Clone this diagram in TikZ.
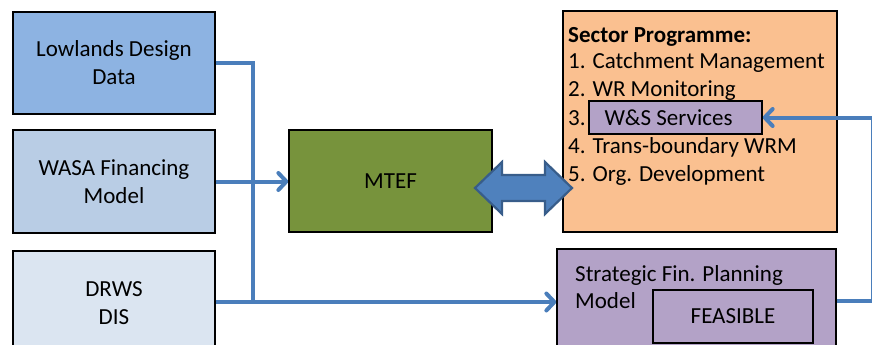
\documentclass[tikz,border=0pt]{standalone}
\usepackage{fontspec}
\setmainfont{Carlito}
\usetikzlibrary{arrows.meta,calc}
\definecolor{cLow}{HTML}{8DB3E2}
\definecolor{cWasa}{HTML}{B9CDE5}
\definecolor{cDrws}{HTML}{DBE5F1}
\definecolor{cMtef}{HTML}{77933C}
\definecolor{cSector}{HTML}{FAC090}
\definecolor{cPurple}{HTML}{B3A2C7}
\definecolor{cLine}{HTML}{4A7EBB}
\definecolor{cDArrow}{HTML}{4F81BD}
\definecolor{cDBorder}{HTML}{385D8A}
\tikzset{
  box/.style={draw=black, line width=1.3pt, rectangle, inner sep=0pt, align=center,
    font=\fontsize{23}{28}\selectfont},
  txt/.style={inner sep=0pt, anchor=base west, font=\fontsize{23}{28}\selectfont},
  conn/.style={draw=cLine, line width=4pt},
  arr/.style={-{Straight Barb[length=8pt,width=17pt,round]}},
}
\begin{document}
\begin{tikzpicture}[x=1pt,y=-1pt]
\clip (0,0) rectangle (872,345);
\useasboundingbox (0,0) rectangle (872,345);
% left boxes
\node[box, fill=cLow, minimum width=202pt, minimum height=102pt] (low) at (114,63) {Lowlands Design\\Data};
\node[box, fill=cWasa, minimum width=202pt, minimum height=103pt] (wasa) at (114,181.5) {WASA Financing\\Model};
\node[box, fill=cDrws, minimum width=202pt, minimum height=104pt] (drws) at (114,303) {DRWS\\DIS};
% MTEF
\node[box, fill=cMtef, minimum width=203pt, minimum height=102pt] (mtef) at (390.5,181) {MTEF};
% Sector programme
\node[box, fill=cSector, minimum width=274pt, minimum height=221pt] (sector) at (700,121.5) {};
\node[txt, font=\fontsize{23}{28}\selectfont\bfseries] (s0) at (568,42) {Sector Programme:};
\node[txt] (s1) at (568,68) {1. Catchment Management};
\node[txt] (s2) at (568,96) {2. WR Monitoring};
\node[txt] (s3) at (568,125) {3.};
\node[txt] (s4) at (568,153) {4. Trans-boundary WRM};
\node[txt] (s5) at (568,181) {5. Org. Development};
\node[box, fill=cPurple, minimum width=173pt, minimum height=33pt] (ws) at (675.5,117.5) {\hspace*{-14pt}W\&S Services};
% Strategic
\node[box, fill=cPurple, minimum width=279pt, minimum height=110pt] (strat) at (696.5,304) {};
\node[txt] (st1) at (575,281) {Strategic Fin. Planning};
\node[txt] (st2) at (575,308) {Model};
\node[box, fill=cPurple, minimum width=160pt, minimum height=53pt] (feas) at (733,316.5) {FEASIBLE};
% connectors
\coordinate (jn) at (253,302);
\draw[conn] (low.east) -| (jn);
\draw[conn] (drws.east |- jn) -- (jn);
\draw[conn, arr] (jn) -- (jn -| strat.west);
\draw[conn, arr] (wasa.east) -- (wasa.east -| mtef.west);
\coordinate (fb) at (873,301);
\draw[conn, arr] (strat.east |- fb) -- (fb) |- (ws.east);
% double arrow between MTEF and Sector
\coordinate (dac) at (523.5,188);
\draw[draw=cDBorder, fill=cDArrow, line width=2.2pt, line join=miter]
  ($(dac)+(-48.5,0)$) -- ($(dac)+(-21.5,-26)$) -- ($(dac)+(-21.5,-13)$)
  -- ($(dac)+(21.5,-13)$) -- ($(dac)+(21.5,-26)$) -- ($(dac)+(48.5,0)$)
  -- ($(dac)+(21.5,26)$) -- ($(dac)+(21.5,13)$) -- ($(dac)+(-21.5,13)$)
  -- ($(dac)+(-21.5,26)$) -- cycle;
\end{tikzpicture}
\end{document}
